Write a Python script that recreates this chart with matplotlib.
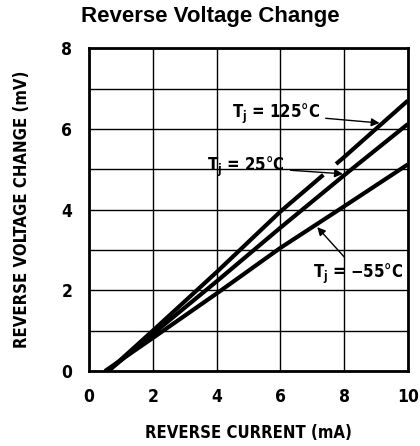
import matplotlib
matplotlib.use("Agg")
import matplotlib.pyplot as plt
from matplotlib import font_manager

# Values
current = [0.0, 2, 4, 6, 8, 10]
start_125 = 0.6
start_25 = 0.6
start_m55 = 0.5
v_125 = [1.0, 2.45, 3.95, 5.3, 6.7]
v_25 = [0.92, 2.22, 3.55, 4.85, 6.12]
v_m55 = [0.82, 1.92, 3.05, 4.08, 5.12]
gap_125 = (7.35, 7.75)  # 125°C curve is broken where the 25°C arrow passes

x_ticks = [0, 2, 4, 6, 8, 10]
y_ticks = [0, 2, 4, 6, 8]

# condensed bold face if one is installed
cond = None
for f in font_manager.fontManager.ttflist:
    if "Condensed" in f.fname and "Bold" in f.fname and "Oblique" not in f.fname:
        cond = f.fname
        break
if cond:
    lab = dict(fontproperties=font_manager.FontProperties(fname=cond, size=12))
    lab_s = dict(fontproperties=font_manager.FontProperties(fname=cond, size=12.5))
else:
    lab = dict(fontsize=11, fontweight="bold")
    lab_s = lab

fig = plt.figure(figsize=(4.2, 4.46), dpi=100)
ax = fig.add_axes([0.212, 0.168, 0.759, 0.724])

xs_125 = [start_125] + current[1:]
xs_25 = [start_25] + current[1:]
xs_m55 = [start_m55] + current[1:]
ys_125 = [0] + v_125
ys_25 = [0] + v_25
ys_m55 = [0] + v_m55

def interp(x, xs, ys):
    for i in range(len(xs) - 1):
        if xs[i] <= x <= xs[i + 1]:
            t = (x - xs[i]) / (xs[i + 1] - xs[i])
            return ys[i] + t * (ys[i + 1] - ys[i])
    return ys[-1]

lw = 3.0
# 125°C drawn in two parts with a small gap
g0, g1 = gap_125
low_x = [x for x in xs_125 if x < g0] + [g0]
low_y = [interp(x, xs_125, ys_125) for x in low_x]
high_x = [g1] + [x for x in xs_125 if x > g1]
high_y = [interp(x, xs_125, ys_125) for x in high_x]
ax.plot(low_x, low_y, color="black", lw=lw, solid_capstyle="butt")
ax.plot(high_x, high_y, color="black", lw=lw, solid_capstyle="butt")
ax.plot(xs_25, ys_25, color="black", lw=lw, solid_capstyle="butt")
ax.plot(xs_m55, ys_m55, color="black", lw=lw, solid_capstyle="butt")

# labels with arrows
arrow = dict(arrowstyle="-|>", color="black", lw=1.0, mutation_scale=12)
ax.annotate(r"T$_\mathregular{j}$ = 125°C", xy=(9.2, interp(9.2, xs_125, ys_125)),
            xytext=(7.25, 6.37), ha="right", va="center", arrowprops=arrow, **lab)
ax.annotate(r"T$_\mathregular{j}$ = 25°C", xy=(8.05, interp(8.05, xs_25, ys_25)),
            xytext=(6.15, 5.05), ha="right", va="center", arrowprops=arrow, **lab)
ax.annotate(r"T$_\mathregular{j}$ = −55°C", xy=(7.1, interp(7.1, xs_m55, ys_m55)),
            xytext=(9.85, 2.4), ha="right", va="center",
            arrowprops=dict(arrowstyle="-|>", color="black", lw=1.0, mutation_scale=12,
                            relpos=(0.4, 1.0)), **lab)

ax.set_xlim(0, 10)
ax.set_ylim(0, 8)
ax.set_xticks(range(0, 11, 2))
ax.set_yticks(range(0, 9, 1))
ax.set_xticklabels([str(t) for t in x_ticks], **lab_s)
ax.set_yticklabels([str(t) if t in y_ticks else "" for t in range(0, 9)], **lab_s)
ax.tick_params(length=0, pad=12)
ax.grid(True, color="black", lw=1.0)
for s in ax.spines.values():
    s.set_linewidth(2.0)

ax.set_xlabel("REVERSE CURRENT (mA)", labelpad=13, **lab)
ax.set_ylabel("REVERSE VOLTAGE CHANGE (mV)", labelpad=22, **lab)

fig.text(0.5, 0.962, "Reverse Voltage Change", ha="center", va="center",
         fontsize=16, fontweight="bold", family=["Liberation Sans", "DejaVu Sans"])

fig.savefig("out.png", dpi=100)
